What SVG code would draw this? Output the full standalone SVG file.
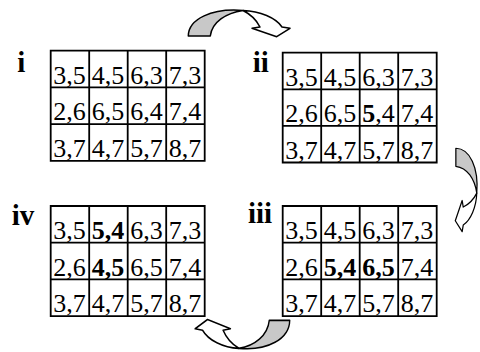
<svg xmlns="http://www.w3.org/2000/svg" width="480" height="352" viewBox="0 0 480 352">
<style>
.grid{fill:none;stroke:#000;stroke-width:1.8}
.c{font-family:"Liberation Serif","Times New Roman",serif;font-size:26px;fill:#000}
.b{font-weight:bold}
.lab{font-family:"Liberation Serif","Times New Roman",serif;font-size:29px;font-weight:bold;fill:#000}
.g{fill:#c8c8c8;stroke:#000;stroke-width:1.5;stroke-linejoin:round}
.w{fill:#fff;stroke:#000;stroke-width:1.5;stroke-linejoin:round}
</style>
<defs>
<g id="curl">
<path class="w" d="M55,1.5 C72,2 88,9 94,18 L102,19.3 L88.7,27.7 L64,19.3 L72,18 C68,10 62,5 55,1.5 Z"/>
<path class="g" d="M0.3,27 C0.5,10 24,-1 55,1.5 C38,4 24,13 22.3,27 Z"/>
</g>
</defs>
<rect width="480" height="352" fill="#fff"/>
<g id="connectors">
<use href="#curl" transform="translate(188,9)"/>
<use href="#curl" transform="translate(478,148) rotate(90) scale(0.82)"/>
<use href="#curl" transform="translate(290,350) rotate(180) scale(0.93,1.1)"/>
</g>
<g id="grid-i">
<text class="lab" x="17.3" y="72">i</text>
<path class="grid" d="M50.7,50.7 h154 v110.1 h-154 Z M89.2,50.7 v110.1 M127.7,50.7 v110.1 M166.2,50.7 v110.1 M50.7,87.4 h154 M50.7,124.1 h154"/>
<text class="c" x="53.2" y="83.7">3,5</text><text class="c" x="91.7" y="83.7">4,5</text><text class="c" x="130.2" y="83.7">6,3</text><text class="c" x="168.7" y="83.7">7,3</text>
<text class="c" x="53.2" y="120.4">2,6</text><text class="c" x="91.7" y="120.4">6,5</text><text class="c" x="130.2" y="120.4">6,4</text><text class="c" x="168.7" y="120.4">7,4</text>
<text class="c" x="53.2" y="157.1">3,7</text><text class="c" x="91.7" y="157.1">4,7</text><text class="c" x="130.2" y="157.1">5,7</text><text class="c" x="168.7" y="157.1">8,7</text>
</g>
<g id="grid-ii">
<text class="lab" x="252.7" y="72">ii</text>
<path class="grid" d="M282.7,52.7 h154 v109.8 h-154 Z M321.2,52.7 v109.8 M359.7,52.7 v109.8 M398.2,52.7 v109.8 M282.7,89.3 h154 M282.7,125.9 h154"/>
<text class="c" x="285.2" y="85.7">3,5</text><text class="c" x="323.7" y="85.7">4,5</text><text class="c" x="362.2" y="85.7">6,3</text><text class="c" x="400.7" y="85.7">7,3</text>
<text class="c" x="285.2" y="122.3">2,6</text><text class="c" x="323.7" y="122.3">6,5</text><text class="c" x="362.2" y="122.3"><tspan class="b">5</tspan>,4</text><text class="c" x="400.7" y="122.3">7,4</text>
<text class="c" x="285.2" y="158.9">3,7</text><text class="c" x="323.7" y="158.9">4,7</text><text class="c" x="362.2" y="158.9">5,7</text><text class="c" x="400.7" y="158.9">8,7</text>
</g>
<g id="grid-iii">
<text class="lab" x="248" y="223">iii</text>
<path class="grid" d="M282.7,206 h154 v110.1 h-154 Z M321.2,206 v110.1 M359.7,206 v110.1 M398.2,206 v110.1 M282.7,242.7 h154 M282.7,279.4 h154"/>
<text class="c" x="285.2" y="239">3,5</text><text class="c" x="323.7" y="239">4,5</text><text class="c" x="362.2" y="239">6,3</text><text class="c" x="400.7" y="239">7,3</text>
<text class="c" x="285.2" y="275.7">2,6</text><text class="c b" x="323.7" y="275.7">5,4</text><text class="c b" x="362.2" y="275.7">6,5</text><text class="c" x="400.7" y="275.7">7,4</text>
<text class="c" x="285.2" y="312.4">3,7</text><text class="c" x="323.7" y="312.4">4,7</text><text class="c" x="362.2" y="312.4">5,7</text><text class="c" x="400.7" y="312.4">8,7</text>
</g>
<g id="grid-iv">
<text class="lab" x="11.7" y="225">iv</text>
<path class="grid" d="M50.7,206 h154 v110.1 h-154 Z M89.2,206 v110.1 M127.7,206 v110.1 M166.2,206 v110.1 M50.7,242.7 h154 M50.7,279.4 h154"/>
<text class="c" x="53.2" y="239">3,5</text><text class="c b" x="91.7" y="239">5,4</text><text class="c" x="130.2" y="239">6,3</text><text class="c" x="168.7" y="239">7,3</text>
<text class="c" x="53.2" y="275.7">2,6</text><text class="c b" x="91.7" y="275.7">4,5</text><text class="c" x="130.2" y="275.7">6,5</text><text class="c" x="168.7" y="275.7">7,4</text>
<text class="c" x="53.2" y="312.4">3,7</text><text class="c" x="91.7" y="312.4">4,7</text><text class="c" x="130.2" y="312.4">5,7</text><text class="c" x="168.7" y="312.4">8,7</text>
</g>
</svg>
